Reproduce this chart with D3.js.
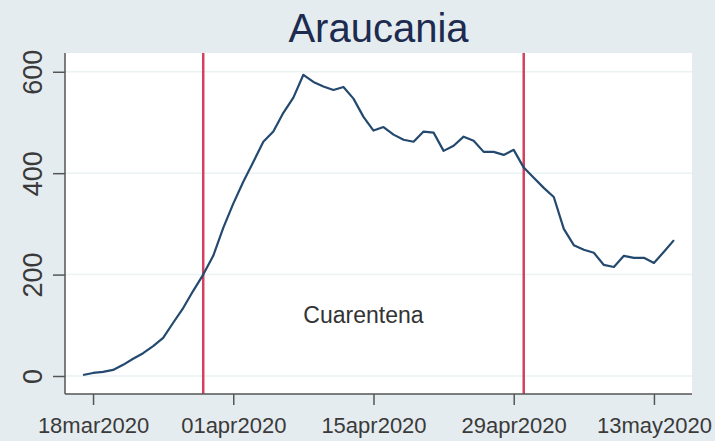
<!DOCTYPE html>
<html>
<head>
<meta charset="utf-8">
<script src="https://cdn.jsdelivr.net/npm/d3@7"></script>
<style>
  body { margin: 0; background: #e5ecef; }
  svg { display: block; font-family: "Liberation Sans", Arial, sans-serif; }
  .yAxis text, .xAxis text { fill: #3a3a3a; }
</style>
</head>
<body>
<div id="chart"></div>
<script>
// daily values starting 17mar2020
var startDate = "2020-03-17";
var values = [2, 6, 8, 12, 22, 34, 45, 59, 75, 105,
  134, 168, 200, 237, 292, 340, 383, 422, 462, 482,
  519, 549, 594, 580, 571, 564, 570, 547, 511, 484,
  491, 476, 466, 462, 482, 480, 444, 454, 472, 464,
  442, 442, 436, 446, 411, 391, 371, 353, 290, 258,
  249, 243, 219, 215, 237, 233, 233, 223, 245, 268];

var yTicks = [0, 200, 400, 600];
var xTickLabels = ["18mar2020", "01apr2020", "15apr2020", "29apr2020", "13may2020"];
var markerDates = ["2020-03-29", "2020-04-30"];
var noteText = "Cuarentena";
var noteValue = 120;
var title = "Araucania";

var W = 715, H = 441;
var margin = { top: 53, right: 23, bottom: 47, left: 65 },
  width = W - margin.left - margin.right,
  height = H - margin.top - margin.bottom;

var parseTime = d3.utcParse("%Y-%m-%d");
var parseTick = d3.utcParse("%d%b%Y");
var t0 = parseTime(startDate);

var data = values.map(function(v, i) {
  return { date: d3.utcDay.offset(t0, i), value: v };
});

var day = 864e5;
var ref = parseTick("18mar2020");
var x = d3.scaleUtc()
  .domain([new Date(+ref - 2.8 * day), new Date(+ref + 59.8 * day)])
  .range([0, width]);
var y = d3.scaleLinear().domain([-35.5, 637]).range([height, 0]);

var svg = d3.select("#chart").append("svg")
  .attr("width", W)
  .attr("height", H);

svg.append("rect").attr("width", W).attr("height", H).attr("fill", "#e5ecef");

svg.append("text")
  .attr("x", margin.left + width / 2)
  .attr("y", 42)
  .attr("text-anchor", "middle")
  .attr("font-size", 40)
  .attr("fill", "#1c2b4f")
  .text(title);

var g = svg.append("g")
  .attr("transform", "translate(" + margin.left + "," + margin.top + ")");

g.append("rect").attr("width", width).attr("height", height).attr("fill", "#fff");

// grid
g.selectAll(".grid")
  .data(yTicks)
  .enter().append("line")
  .attr("class", "grid")
  .attr("x1", 0).attr("x2", width)
  .attr("y1", function(d) { return y(d); })
  .attr("y2", function(d) { return y(d); })
  .attr("stroke", "#eaf2f3")
  .attr("stroke-width", 1.5);

// quarantine markers
g.selectAll(".marker")
  .data(markerDates)
  .enter().append("line")
  .attr("class", "marker")
  .attr("x1", function(d) { return x(parseTime(d)); })
  .attr("x2", function(d) { return x(parseTime(d)); })
  .attr("y1", 0).attr("y2", height)
  .attr("stroke", "#d4405f")
  .attr("stroke-width", 2.5);

g.append("text")
  .attr("x", (x(parseTime(markerDates[0])) + x(parseTime(markerDates[1]))) / 2)
  .attr("y", y(noteValue))
  .attr("dy", "0.35em")
  .attr("text-anchor", "middle")
  .attr("font-size", 23)
  .attr("fill", "#333")
  .text(noteText);

var valueline = d3.line()
  .x(function(d) { return x(d.date); })
  .y(function(d) { return y(d.value); });

g.append("path")
  .datum(data)
  .attr("fill", "none")
  .attr("stroke", "#24496f")
  .attr("stroke-width", 2.2)
  .attr("stroke-linejoin", "round")
  .attr("d", valueline);

// Y axis
var yAxis = g.append("g")
  .attr("class", "yAxis")
  .call(d3.axisLeft(y).tickValues(yTicks).tickSize(12).tickPadding(6));
yAxis.select(".domain").attr("stroke", "#555").attr("stroke-width", 1.5)
  .attr("d", "M0," + height + "V0");
yAxis.selectAll(".tick line").attr("stroke", "#555").attr("stroke-width", 1.5);
yAxis.selectAll("text")
  .attr("font-size", 27)
  .attr("transform", "rotate(-90)")
  .attr("x", 0).attr("y", -23)
  .attr("dy", 0)
  .attr("text-anchor", "middle");

// X axis
var xAxis = g.append("g")
  .attr("class", "xAxis")
  .attr("transform", "translate(0," + height + ")")
  .call(d3.axisBottom(x)
    .tickValues(xTickLabels.map(parseTick))
    .tickFormat(function(d) { return d3.utcFormat("%d%b%Y")(d).toLowerCase(); })
    .tickSize(11).tickPadding(12));
xAxis.select(".domain").attr("stroke", "#555").attr("stroke-width", 1.5)
  .attr("d", "M0,0H" + width);
xAxis.selectAll(".tick line").attr("stroke", "#555").attr("stroke-width", 1.5);
xAxis.selectAll("text").attr("font-size", 22);
</script>
</body>
</html>
